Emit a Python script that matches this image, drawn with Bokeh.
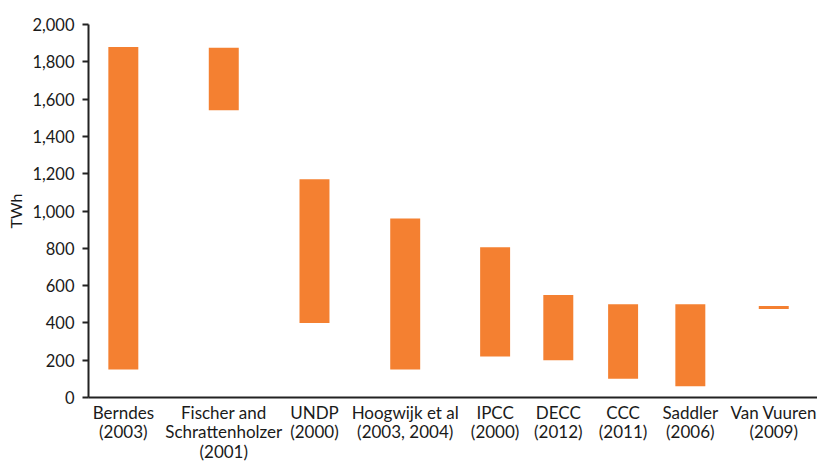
from bokeh.plotting import figure
from bokeh.models import Range1d, FixedTicker, NumeralTickFormatter, ColumnDataSource
from bokeh.embed import file_html
from bokeh.resources import INLINE

# Data
studies = ["Berndes\n(2003)", "Fischer and\nSchrattenholzer\n(2001)", "UNDP\n(2000)",
           "Hoogwijk et al\n(2003, 2004)", "IPCC\n(2000)", "DECC\n(2012)", "CCC\n(2011)",
           "Saddler\n(2006)", "Van Vuuren\n(2009)"]
low_twh = [150, 1540, 400, 150, 220, 200, 100, 60, 475]
high_twh = [1880, 1875, 1170, 960, 805, 550, 500, 500, 490]
y_ticks = [0, 200, 400, 600, 800, 1000, 1200, 1400, 1600, 1800, 2000]

# Layout: category positions along the axis (as in the original figure)
cat_pos = [0.43, 1.67, 2.79, 3.91, 5.02, 5.80, 6.60, 7.43, 8.46]

src = ColumnDataSource(dict(x=cat_pos, low=low_twh, high=high_twh))

FONT = "Lato"
TXT = "#1a1a1a"

p = figure(width=817, height=467, output_backend="svg", toolbar_location=None,
           x_range=Range1d(0, 9), y_range=Range1d(0, 2000),
           min_border_left=88, min_border_right=0, min_border_top=24, min_border_bottom=70)
p.outline_line_color = None
p.grid.visible = False
p.background_fill_color = "white"
p.border_fill_color = "white"

p.vbar(x="x", bottom="low", top="high", width=0.37, source=src,
       fill_color="#F48031", line_color=None)

# y axis
ya = p.yaxis[0]
ya.ticker = FixedTicker(ticks=y_ticks)
ya.formatter = NumeralTickFormatter(format="0,0")
ya.axis_label = "TWh"
ya.axis_label_text_font = FONT
ya.axis_label_text_font_size = "16px"
ya.axis_label_text_font_style = "normal"
ya.axis_label_text_color = TXT
ya.axis_label_standoff = 4
ya.major_label_text_font = FONT
ya.major_label_text_font_size = "16.5px"
ya.major_label_text_color = TXT
ya.major_label_standoff = 8
ya.major_tick_out = 6
ya.major_tick_in = 0
ya.minor_tick_out = 0
ya.minor_tick_in = 0
ya.axis_line_width = 2
ya.axis_line_color = "#222222"
ya.major_tick_line_width = 2
ya.major_tick_line_color = "#222222"

# x axis
xa = p.xaxis[0]
xa.ticker = FixedTicker(ticks=cat_pos)
xa.major_label_overrides = {pos: lab for pos, lab in zip(cat_pos, studies)}
xa.major_label_text_font = FONT
xa.major_label_text_font_size = "17px"
xa.major_label_text_color = TXT
xa.major_label_text_line_height = 0.93
xa.major_label_standoff = 4
xa.major_tick_out = 0
xa.major_tick_in = 0
xa.minor_tick_out = 0
xa.minor_tick_in = 0
xa.axis_line_width = 2
xa.axis_line_color = "#222222"

open("out.html", "w").write(file_html(p, INLINE))
